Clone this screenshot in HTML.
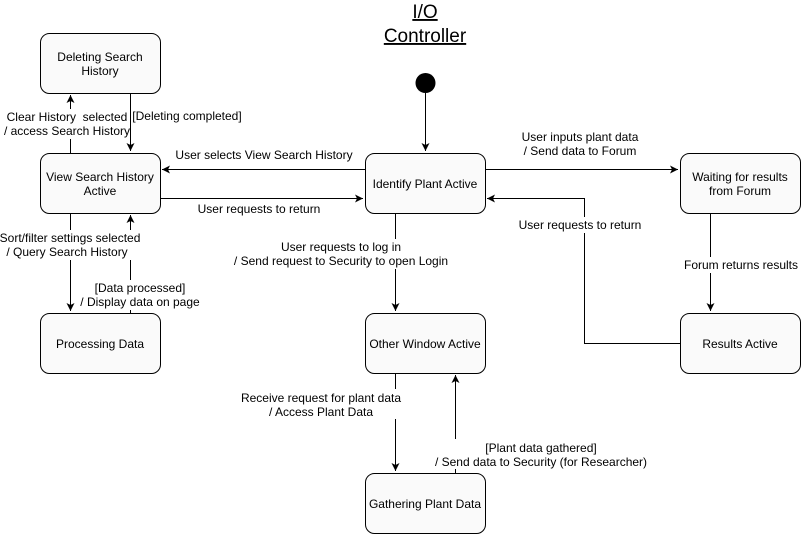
<!DOCTYPE html>
<html><head><meta charset="utf-8"><style>
html,body{margin:0;padding:0;background:#fff;width:801px;height:534px;overflow:hidden}
text{font-family:"Liberation Sans",Arial,sans-serif;font-size:12px;fill:#000}
</style></head><body>
<svg width="801" height="534" viewBox="0 0 801 534" xmlns="http://www.w3.org/2000/svg">
<defs><marker id="a" markerWidth="10" markerHeight="10" refX="8" refY="5" orient="auto" markerUnits="userSpaceOnUse"><path d="M0,1 L8,5 L0,9 L2,5 z" fill="#000"/></marker></defs>
<g fill="none" stroke="#000" stroke-width="1">
<path d="M425.5,93 V151" marker-end="url(#a)"/>
<path d="M70.5,153 V95" marker-end="url(#a)"/>
<path d="M130.5,93 V151" marker-end="url(#a)"/>
<path d="M70.5,213 V311" marker-end="url(#a)"/>
<path d="M130.5,313 V215" marker-end="url(#a)"/>
<path d="M365,169.5 H162" marker-end="url(#a)"/>
<path d="M160,198.5 H363" marker-end="url(#a)"/>
<path d="M485,169.5 H678" marker-end="url(#a)"/>
<path d="M710.5,213 V311" marker-end="url(#a)"/>
<path d="M680,343.5 H584.5 V198.5 H487" marker-end="url(#a)"/>
<path d="M395.5,213 V311" marker-end="url(#a)"/>
<path d="M395.5,373 V471" marker-end="url(#a)"/>
<path d="M455.5,473 V375" marker-end="url(#a)"/>
</g>
<circle cx="425.5" cy="83" r="10" fill="#000"/>
<g fill="#fafafa" stroke="#000">
<rect x="40.5" y="33.5" width="120" height="60" rx="9"/>
<rect x="40.5" y="153.5" width="120" height="60" rx="9"/>
<rect x="40.5" y="313.5" width="120" height="60" rx="9"/>
<rect x="365.5" y="153.5" width="120" height="60" rx="9"/>
<rect x="365.5" y="313.5" width="120" height="60" rx="9"/>
<rect x="365.5" y="473.5" width="120" height="60" rx="9"/>
<rect x="680.5" y="153.5" width="120" height="60" rx="9"/>
<rect x="680.5" y="313.5" width="120" height="60" rx="9"/>
</g>
<g text-anchor="middle">
<text x="100" y="61">Deleting Search</text><text x="100" y="75">History</text>
<text x="100" y="181">View Search History</text><text x="100" y="195">Active</text>
<text x="100" y="348">Processing Data</text>
<text x="425" y="188">Identify Plant Active</text>
<text x="425" y="348">Other Window Active</text>
<text x="425" y="508">Gathering Plant Data</text>
<text x="740" y="181">Waiting for results</text><text x="740" y="195">from Forum</text>
<text x="740" y="348">Results Active</text>
<text x="425" y="18" style="font-size:19px" text-decoration="underline">I/O</text>
<text x="425" y="42" style="font-size:19px" text-decoration="underline">Controller</text>
</g>
<g fill="#fff">
<rect x="4" y="109" width="126" height="30"/>
<rect x="132" y="108" width="110" height="16"/>
<rect x="174" y="147" width="180" height="16"/>
<rect x="196" y="201" width="126" height="16"/>
<rect x="0" y="230" width="141" height="30"/>
<rect x="80" y="280" width="122" height="30"/>
<rect x="232" y="239" width="218" height="30"/>
<rect x="520" y="129" width="120" height="30"/>
<rect x="517" y="217" width="126" height="16"/>
<rect x="682" y="257" width="118" height="16"/>
<rect x="240" y="389" width="162" height="30"/>
<rect x="434" y="439" width="214" height="30"/>
</g>
<g text-anchor="middle">
<text x="67" y="121">Clear History &#160;selected</text><text x="67" y="135">/ access Search History</text>
<text x="187" y="120">[Deleting completed]</text>
<text x="264" y="159">User selects View Search History</text>
<text x="259" y="213">User requests to return</text>
<text x="70" y="242">Sort/filter settings selected</text><text x="67" y="256">/ Query Search History</text>
<text x="140" y="292">[Data processed]</text><text x="140" y="306">/ Display data on page</text>
<text x="341" y="251">User requests to log in</text><text x="341" y="265">/ Send request to Security to open Login</text>
<text x="580" y="141">User inputs plant data</text><text x="580" y="155">/ Send data to Forum</text>
<text x="580" y="229">User requests to return</text>
<text x="741" y="269">Forum returns results</text>
<text x="321" y="402">Receive request for plant data</text><text x="321" y="416">/ Access Plant Data</text>
<text x="541" y="452">[Plant data gathered]</text><text x="541" y="466">/ Send data to Security (for Researcher)</text>
</g>
</svg>
</body></html>
